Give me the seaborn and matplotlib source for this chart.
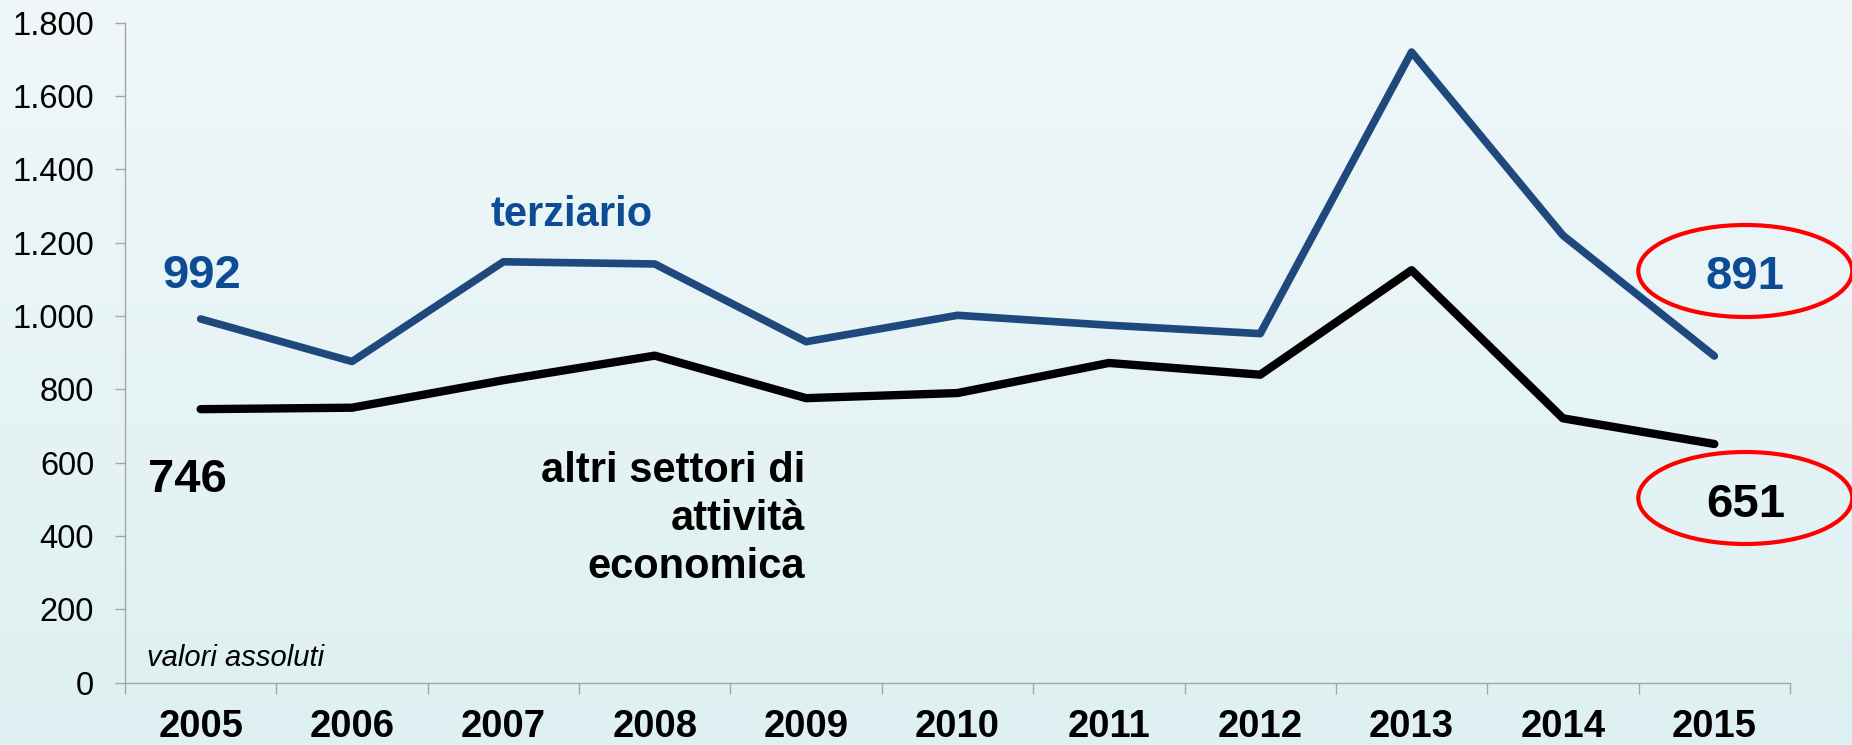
import numpy as np
import pandas as pd
import matplotlib
matplotlib.use("Agg")
import matplotlib.pyplot as plt
from matplotlib import font_manager, transforms
from matplotlib.patches import Ellipse
import seaborn as sns

# --- data -------------------------------------------------------------
anni = ["2005", "2006", "2007", "2008", "2009", "2010",
        "2011", "2012", "2013", "2014", "2015"]
terziario = [992, 876, 1148, 1142, 930, 1002, 975, 952, 1720, 1220, 891]
altri_settori = [746, 750, 825, 892, 776, 790, 872, 840, 1125, 721, 651]
y_ticks = [0, 200, 400, 600, 800, 1000, 1200, 1400, 1600, 1800]

BLUE_LINE = "#1F497D"
BLUE_TEXT = "#0D4C94"
GRID_GREY = "#A6A6A6"

sns.set_style("ticks")
plt.rcParams["font.family"] = ["Liberation Sans", "DejaVu Sans"]
plt.rcParams["text.color"] = "black"

# condensed bold face for the year labels, if one is installed
names = {f.name for f in font_manager.fontManager.ttflist}
if "Liberation Sans Narrow" in names:
    year_font = dict(family="Liberation Sans Narrow", size=33, weight="bold")
elif "Arial Narrow" in names:
    year_font = dict(family="Arial Narrow", size=33, weight="bold")
else:
    year_font = dict(family="Liberation Sans", size=27.5, weight="bold")

df = pd.DataFrame({
    "idx": list(range(len(anni))) * 2,
    "valore": terziario + altri_settori,
    "serie": ["terziario"] * len(anni) + ["altri"] * len(anni),
})

fig = plt.figure(figsize=(18.52, 7.45), dpi=100)

# soft vertical gradient background
bg = fig.add_axes([0, 0, 1, 1], zorder=-10)
top = np.array([239, 247, 249]) / 255
bot = np.array([222, 240, 241]) / 255
t = np.linspace(0, 1, 256)[:, None]
grad = (top * (1 - t) + bot * t)[:, None, :]
bg.imshow(grad, aspect="auto", extent=[0, 1, 0, 1])
bg.set_axis_off()

ax = fig.add_axes([125 / 1852, 1 - 682.7 / 745, 1665 / 1852, 660 / 745])
ax.set_facecolor("none")

sns.lineplot(data=df[df.serie == "terziario"], x="idx", y="valore",
             color=BLUE_LINE, linewidth=5.5, ax=ax, legend=False,
             solid_capstyle="round", solid_joinstyle="round")
sns.lineplot(data=df[df.serie == "altri"], x="idx", y="valore",
             color="black", linewidth=6.0, ax=ax, legend=False,
             solid_capstyle="round", solid_joinstyle="round")

n = len(anni)
ax.set_xlim(-0.5, n - 0.5)
ax.set_ylim(0, 1800)
ax.set_xlabel("")
ax.set_ylabel("")

# category boundaries carry the tick marks, centres carry the labels
ax.set_xticks(np.arange(-0.5, n, 1.0))
ax.set_xticklabels([])
ax.set_xticks(np.arange(n), labels=anni, minor=True)
ax.tick_params(axis="x", which="major", length=8, width=1, color=GRID_GREY)
ax.tick_params(axis="x", which="minor", length=0, pad=19, labelcolor="black")
for lab in ax.get_xticklabels(minor=True):
    lab.set_fontfamily(year_font["family"])
    lab.set_fontsize(year_font["size"])
    lab.set_fontweight(year_font["weight"])

ax.set_yticks(y_ticks)
ax.set_yticklabels([f"{v:,}".replace(",", ".") for v in y_ticks])
ax.tick_params(axis="y", length=7.2, width=1, color=GRID_GREY,
               labelsize=23.5, pad=15, labelcolor="black")

for side in ("top", "right"):
    ax.spines[side].set_visible(False)
for side in ("left", "bottom"):
    ax.spines[side].set_color(GRID_GREY)
    ax.spines[side].set_linewidth(1.0)

# value labels at the first and last year
lab_kw = dict(textcoords="offset pixels", ha="center", va="baseline",
              fontsize=34, fontweight="bold", annotation_clip=False)
ax.annotate(str(terziario[0]), xy=(0, terziario[0]), xytext=(1, 31),
            color=BLUE_TEXT, **lab_kw)
ax.annotate(str(altri_settori[0]), xy=(0, altri_settori[0]), xytext=(-13, -83),
            color="black", **lab_kw)
ax.annotate(str(terziario[-1]), xy=(n - 1, terziario[-1]), xytext=(31, 67),
            color=BLUE_TEXT, **lab_kw)
ax.annotate(str(altri_settori[-1]), xy=(n - 1, altri_settori[-1]),
            xytext=(31, -73), color="black", **lab_kw)

# red rings around the 2015 values
for val, dy in ((terziario[-1], 85), (altri_settori[-1], -54)):
    tr = transforms.ScaledTranslation(n - 1, val, ax.transData)
    ring = Ellipse((31, dy), 214, 92, transform=tr, fill=False,
                   edgecolor="#FF0000", linewidth=3.0, clip_on=False)
    fig.add_artist(ring)

# series names
ax.text((490.7 - 125) / 1665, (682.7 - 226) / 660, "terziario",
        transform=ax.transAxes, ha="left", va="baseline",
        fontsize=30, fontweight="bold", color=BLUE_TEXT)
# baseline alignment of a multi-line block refers to its last line
ax.text((805 - 125) / 1665, (682.7 - 578) / 660,
        "altri settori di\nattività\neconomica",
        transform=ax.transAxes, ha="right", va="baseline",
        multialignment="right", linespacing=1.25,
        fontsize=30, fontweight="bold", color="black")

ax.text((147 - 125) / 1665, (682.7 - 665.7) / 660, "valori assoluti",
        transform=ax.transAxes, ha="left", va="baseline",
        fontsize=21, fontstyle="italic", color="black")

fig.savefig("out.png", dpi=100)
